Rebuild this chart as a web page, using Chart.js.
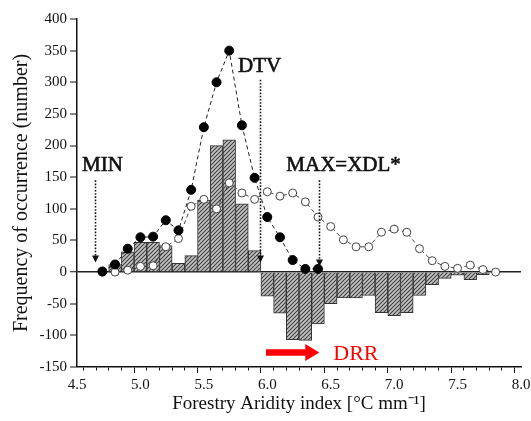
<!DOCTYPE html>
<html><head><meta charset="utf-8">
<script src="https://cdn.jsdelivr.net/npm/chart.js@4"></script>
<style>html,body{margin:0;padding:0;background:#fff}canvas{display:block}</style>
</head><body>
<canvas id="c" width="531" height="421"></canvas>
<script>
// ---- data ----
const xMajorTicks = [4.5, 5.0, 5.5, 6.0, 6.5, 7.0, 7.5, 8.0];
const yTickValues = [-150, -100, -50, 0, 50, 100, 150, 200, 250, 300, 350, 400];

const binCenters = [4.8, 4.9, 5.0, 5.1, 5.2, 5.3, 5.4, 5.5, 5.6, 5.7, 5.8, 5.9,
  6.0, 6.1, 6.2, 6.3, 6.4, 6.5, 6.6, 6.7, 6.8, 6.9, 7.0, 7.1, 7.2, 7.3, 7.4, 7.5, 7.6, 7.7];
const binCounts = [12, 32, 47, 47, 42, 14, 26, 114, 200, 209, 108, 34,
  -38, -65, -107, -108, -82, -50, -41, -41, -37, -64, -69, -64, -37, -20, -10, -5, -12, -4];

const filledX = [4.7, 4.8, 4.9, 5.0, 5.1, 5.2, 5.3, 5.4, 5.5, 5.6, 5.7, 5.8, 5.9, 6.0, 6.1, 6.2, 6.3, 6.4];
const filledY = [1, 12, 37, 55, 56, 82, 66, 130, 229, 300, 350, 232, 149, 87, 55, 19, 5, 5];

const openX = [4.7, 4.8, 4.9, 5.0, 5.1, 5.2, 5.3, 5.4, 5.5, 5.6, 5.7, 5.8, 5.9, 6.0, 6.1, 6.2,
  6.3, 6.4, 6.5, 6.6, 6.7, 6.8, 6.9, 7.0, 7.1, 7.2, 7.3, 7.4, 7.5, 7.6, 7.7, 7.8];
const openY = [0, 0, 3, 9, 10, 40, 53, 104, 115, 100, 141, 125, 115, 127, 120, 125,
  111, 87, 72, 51, 40, 40, 63, 68, 63, 37, 18, 9, 6, 11, 4, 0];

// annotation labels (text + anchor in data units)
const noteText = ['MIN', 'DTV', 'MAX=XDL*'];
const noteX = [4.54, 5.77, 6.15];
const noteY = [159, 317, 160];
const dotArrowX = [4.64, 5.94, 6.41];
const dotArrowTop = [145, 304, 145];
const dotArrowTip = [15, 15, 9];
const drrText = 'DRR';
const drrTextX = 6.52, drrTextY = -139;
const drrArrowFrom = 5.99, drrArrowTo = 6.41, drrArrowY = -127;

const xTitle = 'Forestry Aridity index [\u00B0C mm\u207B\u00B9]';
const yTitle = 'Frequency of occurrence (number)';

// ---- styles ----
const SERIF = "'Liberation Serif', 'Times New Roman', serif";
function makeHatch() {
  const c = document.createElement('canvas');
  c.width = 4; c.height = 4;
  const g = c.getContext('2d');
  g.fillStyle = '#c4c4c4'; g.fillRect(0, 0, 4, 4);
  g.strokeStyle = '#404040'; g.lineWidth = 1.1;
  g.beginPath();
  g.moveTo(0, 4); g.lineTo(4, 0);
  g.moveTo(-1, 1); g.lineTo(1, -1);
  g.moveTo(3, 5); g.lineTo(5, 3);
  g.stroke();
  return g.createPattern(c, 'repeat');
}
const isMajor = v => xMajorTicks.some(m => Math.abs(m - v) < 1e-6);

const annot = {
  id: 'annot',
  afterDatasetsDraw(chart) {
    const {ctx, scales: {x, y}} = chart;
    ctx.save();
    // dotted arrows
    for (let i = 0; i < dotArrowX.length; i++) {
      const px = Math.round(x.getPixelForValue(dotArrowX[i])) + 0.5;
      const top = y.getPixelForValue(dotArrowTop[i]);
      const tip = y.getPixelForValue(dotArrowTip[i]);
      ctx.strokeStyle = '#111'; ctx.lineWidth = 1.6; ctx.setLineDash([1.6, 1.6]);
      ctx.beginPath(); ctx.moveTo(px, top); ctx.lineTo(px, tip - 6); ctx.stroke();
      ctx.setLineDash([]);
      ctx.fillStyle = '#111';
      ctx.beginPath(); ctx.moveTo(px - 3.5, tip - 7); ctx.lineTo(px + 3.5, tip - 7); ctx.lineTo(px, tip); ctx.closePath(); ctx.fill();
    }
    // texts (regular serif with a thin stroke for a semi-bold look)
    ctx.font = '21px ' + SERIF;
    ctx.textBaseline = 'alphabetic'; ctx.textAlign = 'left';
    ctx.fillStyle = '#111'; ctx.strokeStyle = '#111'; ctx.lineWidth = 0.6;
    for (let i = 0; i < noteText.length; i++) {
      const tx = x.getPixelForValue(noteX[i]), ty = y.getPixelForValue(noteY[i]);
      ctx.fillText(noteText[i], tx, ty);
      ctx.strokeText(noteText[i], tx, ty);
    }
    // DRR red arrow
    const ax0 = x.getPixelForValue(drrArrowFrom), ax1 = x.getPixelForValue(drrArrowTo);
    const ay = y.getPixelForValue(drrArrowY);
    ctx.fillStyle = '#ff0000';
    ctx.beginPath();
    ctx.moveTo(ax0, ay - 3.2); ctx.lineTo(ax1 - 14, ay - 3.2); ctx.lineTo(ax1 - 14, ay - 8.5);
    ctx.lineTo(ax1, ay); ctx.lineTo(ax1 - 14, ay + 8.5); ctx.lineTo(ax1 - 14, ay + 3.2);
    ctx.lineTo(ax0, ay + 3.2); ctx.closePath(); ctx.fill();
    ctx.font = '22px ' + SERIF;
    ctx.fillText(drrText, x.getPixelForValue(drrTextX), y.getPixelForValue(drrTextY));
    ctx.restore();
  }
};

new Chart(document.getElementById('c'), {
  type: 'bar',
  data: {
    datasets: [
      {
        type: 'line', order: 0,
        data: filledX.map((v, i) => ({x: v, y: filledY[i]})),
        borderColor: '#222', borderWidth: 1, borderDash: [4, 3],
        pointRadius: 4.5, pointBackgroundColor: '#000', pointBorderColor: '#000', pointBorderWidth: 1,
        fill: false, tension: 0
      },
      {
        type: 'line', order: 1,
        data: openX.map((v, i) => ({x: v, y: openY[i]})),
        borderColor: '#444', borderWidth: 1, borderDash: [4, 3],
        pointRadius: 4, pointBackgroundColor: '#fff', pointBorderColor: '#444', pointBorderWidth: 1,
        fill: false, tension: 0
      },
      {
        type: 'bar', order: 2,
        data: binCenters.map((v, i) => ({x: v, y: binCounts[i]})),
        backgroundColor: makeHatch(), borderColor: '#333', borderWidth: 1,
        barPercentage: 1, categoryPercentage: 1
      }
    ]
  },
  options: {
    responsive: false, animation: false, devicePixelRatio: 1,
    layout: {padding: {left: 0, right: 10, top: 19, bottom: 0}},
    plugins: {legend: {display: false}, tooltip: {enabled: false}},
    scales: {
      x: {
        type: 'linear', min: 4.5, max: 8.0, offset: false,
        afterFit(s) { s.height = 54; s.paddingLeft = 0; s.paddingRight = 0; },
        ticks: {
          stepSize: 0.1, autoSkip: false, maxRotation: 0, padding: 3,
          color: '#111', font: {family: SERIF, size: 15},
          callback: v => isMajor(v) ? v.toFixed(1) : ''
        },
        grid: {
          drawOnChartArea: false, tickLength: 6, tickColor: '#111', tickWidth: 1,
          tickBorderDash: ctx => (ctx.tick && isMajor(ctx.tick.value)) ? [] : [3, 40]
        },
        border: {display: true, color: '#111', width: 1.5},
        title: {display: true, text: xTitle, color: '#111', font: {family: SERIF, size: 19}, padding: {top: 0, bottom: 6}}
      },
      y: {
        type: 'linear', min: -150, max: 400,
        afterFit(s) { s.width = 77; s.paddingTop = 0; s.paddingBottom = 0; },
        afterBuildTicks(s) { s.ticks = yTickValues.map(v => ({value: v})); },
        ticks: {color: '#111', font: {family: SERIF, size: 15}, padding: 3},
        grid: {
          drawOnChartArea: true, tickLength: 7, tickColor: '#111', tickWidth: 1,
          color: ctx => (ctx.tick && ctx.tick.value === 0) ? '#222' : 'rgba(0,0,0,0)',
          lineWidth: ctx => (ctx.tick && ctx.tick.value === 0) ? 1.5 : 0
        },
        border: {display: true, color: '#111', width: 1.5},
        title: {display: true, text: yTitle, color: '#111', font: {family: SERIF, size: 20}, padding: {top: 10, bottom: 0}}
      }
    }
  },
  plugins: [annot]
});
</script>
</body></html>
